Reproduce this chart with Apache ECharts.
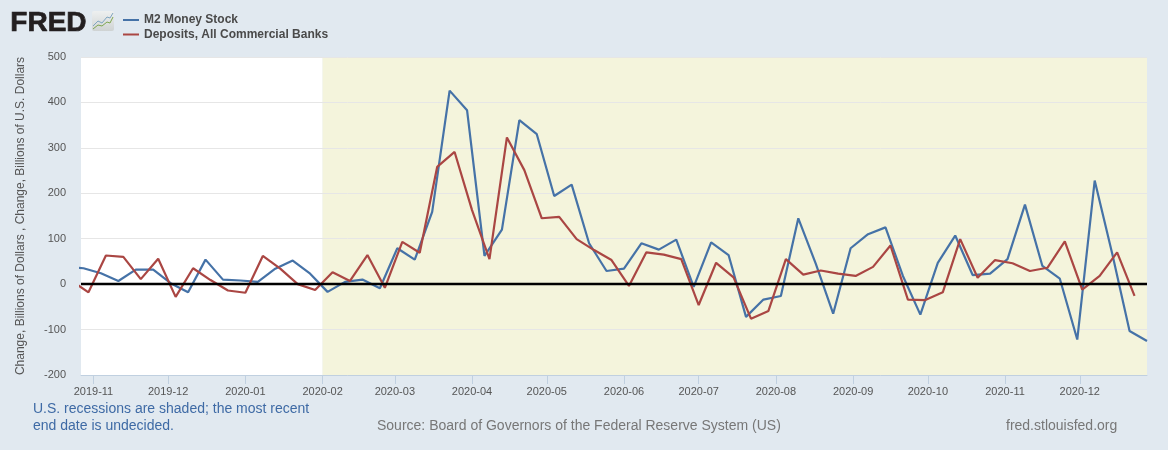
<!DOCTYPE html>
<html><head><meta charset="utf-8">
<style>html,body{margin:0;padding:0;background:#e1e9f0}#c{width:1168px;height:450px}</style>
<script src="https://cdn.jsdelivr.net/npm/echarts@6/dist/echarts.min.js"></script>
</head><body><div id="c"></div>
<script>
const m2Name = 'M2 Money Stock';
const depName = 'Deposits, All Commercial Banks';
const m2Start = '2019-10-21';
const depStart = '2019-10-23';
const m2Values = [38,35,24,7,32,32,2,-18,54,10,8,5,34,52,23,-17,5,10,-9,79,54,159,426,383,62,120,361,330,194,219,90,29,34,90,76,98,-6,92,64,-72,-34,-26,145,45,-65,79,110,125,18,-67,47,107,20,23,55,175,40,12,-122,228,68,-103,-125];
const depValues = [8,-18,63,60,11,56,-28,35,9,-14,-19,62,34,0,-13,26,7,64,-8,93,69,258,291,163,55,323,251,145,148,99,75,53,-4,70,65,55,-46,47,15,-76,-59,55,21,30,23,18,38,85,-34,-35,-18,99,14,53,46,29,36,94,-12,18,70,-26];
const tickLabels = ['2019-11','2019-12','2020-01','2020-02','2020-03','2020-04','2020-05','2020-06','2020-07','2020-08','2020-09','2020-10','2020-11','2020-12'];
const axisMin = '2019-10-27', axisMax = '2020-12-28';
const recessionStart = '2020-02-01';
const yTitle = 'Change, Billions of Dollars , Change, Billions of U.S. Dollars';
const noteLines = ['U.S. recessions are shaded; the most recent','end date is undecided.'];
const sourceText = 'Source: Board of Governors of the Federal Reserve System (US)';
const siteText = 'fred.stlouisfed.org';

const FONT = '"Liberation Sans", Arial, sans-serif';
const ts = s => new Date(s + 'T00:00:00').getTime();
const weekly = (start, vals) => vals.map((v, i) => [ts(start) + i * 7 * 864e5, v]);
const monthTicks = tickLabels.map(l => ts(l + '-01'));

const chart = echarts.init(document.getElementById('c'), null, {renderer: 'canvas'});
chart.setOption({
  animation: false,
  backgroundColor: '#e1e9f0',
  textStyle: {fontFamily: FONT},
  grid: {left: 81, right: 21, top: 57, bottom: 75, containLabel: false},
  legend: {
    left: 118, top: 9, orient: 'vertical', itemWidth: 16, itemHeight: 2, itemGap: 2.5,
    icon: 'rect', selectedMode: false, data: [m2Name, depName],
    textStyle: {fontFamily: FONT, fontSize: 12, fontWeight: 'bold', color: '#4a4a4a', lineHeight: 12}
  },
  xAxis: {
    type: 'value', min: ts(axisMin), max: ts(axisMax), scale: true,
    splitLine: {show: false},
    axisLine: {onZero: false, lineStyle: {color: '#c0d0e0', width: 1}},
    axisTick: {show: true, length: 9, lineStyle: {color: '#c0d0e0'}, customValues: monthTicks},
    axisLabel: {
      customValues: monthTicks, color: '#555', fontSize: 11, margin: 11, fontFamily: FONT,
      hideOverlap: false, formatter: v => { const d = new Date(v); return d.getFullYear() + '-' + String(d.getMonth() + 1).padStart(2, '0'); }
    }
  },
  yAxis: {
    type: 'value', min: -200, max: 500, interval: 100,
    name: yTitle, nameLocation: 'middle', nameGap: 54, nameRotate: 90,
    nameTextStyle: {color: '#555', fontSize: 12, fontFamily: FONT},
    axisLine: {show: false}, axisTick: {show: false},
    axisLabel: {color: '#555', fontSize: 11, margin: 15, fontFamily: FONT, padding: [4, 0, 0, 0]},
    splitLine: {show: true, lineStyle: {color: '#e6e6e6', width: 1}}
  },
  series: [
    {
      name: 'band', type: 'line', z: -1, data: [], silent: true,
      markArea: {z: -1, silent: true, itemStyle: {color: '#ffffff'}, data: [[{xAxis: ts(axisMin)}, {xAxis: ts(recessionStart)}]]}
    },
    {
      name: 'band2', type: 'line', z: -1, data: [], silent: true,
      markArea: {z: -1, silent: true, itemStyle: {color: '#f4f4dc'}, data: [[{xAxis: ts(recessionStart)}, {xAxis: ts(axisMax)}]]}
    },
    {name: m2Name, type: 'line', data: weekly(m2Start, m2Values), showSymbol: false, clip: true, z: 3, color: '#4572a7',
     lineStyle: {color: '#4572a7', width: 2.2}, itemStyle: {color: '#4572a7'}},
    {name: depName, type: 'line', data: weekly(depStart, depValues), showSymbol: false, clip: true, z: 4, color: '#aa4643',
     lineStyle: {color: '#aa4643', width: 2.2}, itemStyle: {color: '#aa4643'},
     markLine: {silent: true, symbol: 'none', label: {show: false}, lineStyle: {color: '#000', width: 2.4, type: 'solid'}, data: [{yAxis: 0}]}}
  ],
  graphic: [
    {type: 'text', left: 10, top: 9, style: {text: 'FRED', font: 'bold 28px ' + FONT, fill: '#231f20', stroke: '#231f20', lineWidth: 0.7}},
    {type: 'rect', shape: {x: 92, y: 11, width: 22, height: 20, r: 2}, style: {fill: new echarts.graphic.LinearGradient(0, 0, 0, 1, [{offset: 0, color: '#eef0f0'}, {offset: 1, color: '#cfd3d3'}])}},
    {type: 'polyline', shape: {points: [[93,26],[98,21],[102,23],[107,17],[110,18],[113,13]]}, style: {stroke: '#7fa5c0', fill: null, lineWidth: 1}},
    {type: 'polyline', shape: {points: [[93,29],[98,25],[102,26],[107,22],[110,23],[113,17]]}, style: {stroke: '#7ea650', fill: null, lineWidth: 1}},
    {type: 'text', left: 33, top: 402, style: {text: noteLines[0], font: '14px ' + FONT, fill: '#3e6aa5'}},
    {type: 'text', left: 33, top: 419, style: {text: noteLines[1], font: '14px ' + FONT, fill: '#3e6aa5'}},
    {type: 'text', left: 377, top: 419, style: {text: sourceText, font: '14px ' + FONT, fill: '#777'}},
    {type: 'text', left: 1006, top: 419, style: {text: siteText, font: '14px ' + FONT, fill: '#777'}}
  ]
});
</script></body></html>
